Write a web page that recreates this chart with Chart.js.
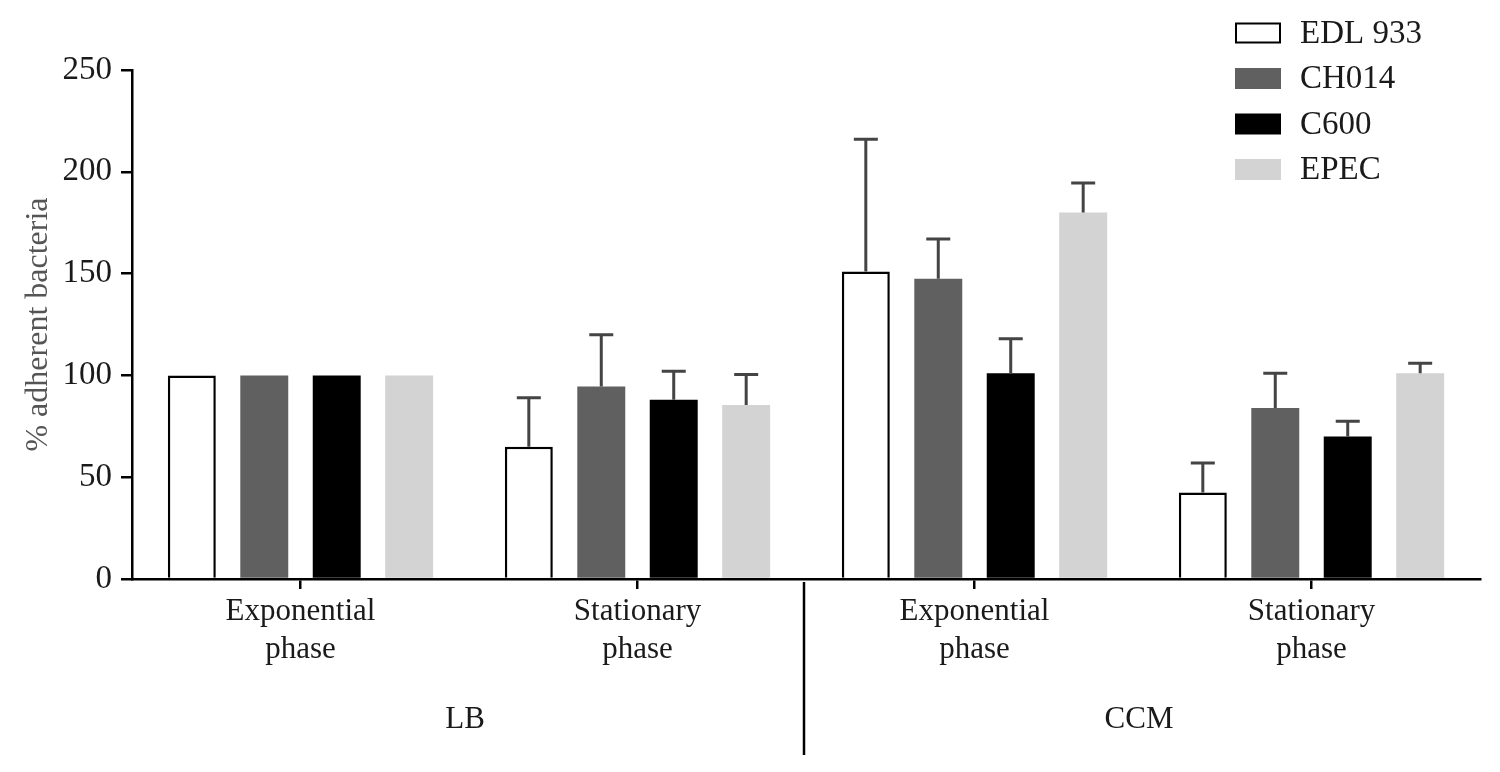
<!DOCTYPE html>
<html>
<head>
<meta charset="utf-8">
<script src="https://cdn.jsdelivr.net/npm/chart.js@4.4.1/dist/chart.umd.min.js"></script>
<style>
  html, body { margin: 0; padding: 0; background: #ffffff; }
  #wrap { position: relative; width: 1500px; height: 772px; }
</style>
</head>
<body>
<div id="wrap"><canvas id="c"></canvas></div>
<script>
// ---- data ----
const categories = [["Exponential", "phase"], ["Stationary", "phase"], ["Exponential", "phase"], ["Stationary", "phase"]];
const mediaGroups = ["LB", "CCM"];
const seriesNames = ["EDL 933", "CH014", "C600", "EPEC"];
const edl933 = [100, 65, 151, 42.5];
const edl933Sd = [0, 24, 65, 14.5];
const ch014 = [100, 94.5, 147.5, 84];
const ch014Sd = [0, 25.5, 19.5, 17];
const c600 = [100, 88, 101, 70];
const c600Sd = [0, 14, 17, 7.5];
const epec = [100, 85.5, 180, 101];
const epecSd = [0, 15, 14.5, 5];
const yTicks = [0, 50, 100, 150, 200, 250];
const yTitle = "% adherent bacteria";

const FONT = "'Liberation Serif', 'Times New Roman', serif";
const fills = ["#ffffff", "#606060", "#000000", "#d3d3d3"];
const borders = ["#000000", "#606060", "#000000", "#d3d3d3"];
const values = [edl933, ch014, c600, epec];
const sds = [edl933Sd, ch014Sd, c600Sd, epecSd];

const datasets = seriesNames.map((n, i) => ({
  label: n,
  data: values[i],
  sd: sds[i],
  backgroundColor: fills[i],
  borderColor: borders[i],
  borderWidth: i === 0 ? 2.5 : 0,
  borderSkipped: 'start',
  categoryPercentage: 0.86,
  barPercentage: 0.662
}));

const errorBars = {
  id: 'errorBars',
  afterDatasetsDraw(chart) {
    const ctx = chart.ctx;
    const y = chart.scales.y;
    ctx.save();
    ctx.strokeStyle = '#444444';
    ctx.lineWidth = 3;
    chart.data.datasets.forEach((ds, i) => {
      const meta = chart.getDatasetMeta(i);
      meta.data.forEach((bar, j) => {
        const sd = ds.sd[j];
        if (!sd) return;
        const top = y.getPixelForValue(ds.data[j] + sd);
        const base = y.getPixelForValue(ds.data[j]);
        ctx.beginPath();
        ctx.moveTo(bar.x, base);
        ctx.lineTo(bar.x, top);
        ctx.moveTo(bar.x - 12, top);
        ctx.lineTo(bar.x + 12, top);
        ctx.stroke();
      });
    });
    ctx.restore();
  }
};

const groupLabels = {
  id: 'groupLabels',
  afterDraw(chart) {
    const ctx = chart.ctx;
    const x = chart.scales.x;
    const bottom = chart.chartArea.bottom;
    ctx.save();
    // separator between LB and CCM
    const sepX = x.getPixelForValue(1.5);
    ctx.strokeStyle = '#000';
    ctx.lineWidth = 2.5;
    ctx.beginPath();
    ctx.moveTo(sepX - 2, bottom + 3);
    ctx.lineTo(sepX - 2, 755);
    ctx.stroke();
    ctx.fillStyle = '#1a1a1a';
    ctx.font = "31px " + FONT;
    ctx.textAlign = 'center';
    ctx.textBaseline = 'middle';
    mediaGroups.forEach((g, k) => {
      const cx = (x.getPixelForValue(2 * k) + x.getPixelForValue(2 * k + 1)) / 2;
      ctx.fillText(g, cx - 4, 720);
    });
    ctx.restore();
  }
};

const customLegend = {
  id: 'customLegend',
  afterDraw(chart) {
    const ctx = chart.ctx;
    ctx.save();
    ctx.font = "33px " + FONT;
    ctx.textBaseline = 'middle';
    ctx.textAlign = 'left';
    chart.data.datasets.forEach((ds, i) => {
      const cy = 33 + i * 45.5;
      ctx.fillStyle = ds.backgroundColor;
      ctx.fillRect(1235, cy - 10.5, 46, 21);
      if (i === 0) {
        ctx.strokeStyle = '#000';
        ctx.lineWidth = 2;
        ctx.strokeRect(1236, cy - 9.5, 44, 19);
      }
      ctx.fillStyle = '#1a1a1a';
      ctx.fillText(ds.label, 1300, cy + 1);
    });
    ctx.restore();
  }
};

new Chart(document.getElementById('c'), {
  type: 'bar',
  data: { labels: categories, datasets },
  plugins: [errorBars, groupLabels, customLegend],
  options: {
    responsive: true,
    maintainAspectRatio: false,
    animation: false,
    layout: { padding: { top: 70, right: 20, left: 0, bottom: 0 } },
    plugins: { legend: { display: false }, tooltip: { enabled: false } },
    scales: {
      x: {
        grid: { drawOnChartArea: false, offset: false, drawTicks: true, tickLength: 10, color: '#000', lineWidth: 2.5 },
        border: { color: '#000', width: 2.5 },
        ticks: { color: '#1a1a1a', font: { family: FONT, size: 31, lineHeight: 1.25 }, padding: 3, maxRotation: 0, autoSkip: false },
        afterFit(s) { s.height = 193; }
      },
      y: {
        min: 0, max: 250,
        afterBuildTicks(s) { s.ticks = yTicks.map(v => ({ value: v })); },
        grid: { drawOnChartArea: false, drawTicks: true, tickLength: 11, color: '#000', lineWidth: 2.5 },
        border: { color: '#000', width: 2.5 },
        ticks: { color: '#1a1a1a', font: { family: FONT, size: 33 }, padding: 9 },
        title: { display: true, text: yTitle, color: '#555', font: { family: FONT, size: 32 }, padding: { top: 19, bottom: 0 } },
        afterFit(s) { s.width = 132; }
      }
    }
  }
});
</script>
</body>
</html>
